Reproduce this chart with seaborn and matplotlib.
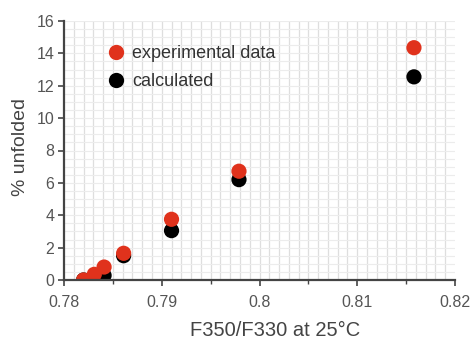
import matplotlib
matplotlib.use("Agg")
import matplotlib.pyplot as plt
import seaborn as sns
import pandas as pd
import numpy as np
from matplotlib.ticker import MultipleLocator
from matplotlib.lines import Line2D

# data
ratio = [0.782, 0.7831, 0.7841, 0.7861, 0.791, 0.7979, 0.8158]
experimental = [0.0, 0.35, 0.8, 1.65, 3.75, 6.72, 14.35]
calculated = [0.0, 0.1, 0.28, 1.5, 3.05, 6.2, 12.55]
series_names = ["experimental data", "calculated"]
x_ticks = [0.78, 0.79, 0.80, 0.81, 0.82]
x_tick_labels = ["0.78", "0.79", "0.8", "0.81", "0.82"]
y_ticks = [0, 2, 4, 6, 8, 10, 12, 14, 16]

df = pd.DataFrame({
    "ratio": ratio * 2,
    "value": experimental + calculated,
    "series": [series_names[0]] * len(ratio) + [series_names[1]] * len(ratio),
})

sns.set_style("white")
plt.rcParams['font.family'] = ['Liberation Sans', 'DejaVu Sans']

fig = plt.figure(figsize=(4.72, 3.40), dpi=100)
L, R, B, T = 64, 455, 280, 21
ax = fig.add_axes([L/472, 1 - B/340, (R - L)/472, (B - T)/340])

colors = {"experimental data": "#e0321c", "calculated": "#000000"}
order_df = pd.concat([df[df.series == "calculated"], df[df.series == "experimental data"]])
sns.scatterplot(data=order_df, x="ratio", y="value", hue="series",
                hue_order=series_names, palette=colors,
                s=120, edgecolor="none", ax=ax, legend=False, zorder=3)

ax.set_xlim(0.78, 0.82)
ax.set_ylim(0, 16)
ax.set_xticks(x_ticks)
ax.set_xticklabels(x_tick_labels)
ax.xaxis.set_minor_locator(MultipleLocator(0.005))
ax.set_yticks(y_ticks)

# grid lines
for gx in np.arange(0.781, 0.8195, 0.001):
    ax.axvline(gx, color="#dedede", lw=0.9, zorder=1)
for gy in np.arange(0.5, 16.01, 0.5):
    ax.axhline(gy, color="#ececec", lw=0.8, zorder=1)

for side in ["top", "right"]:
    ax.spines[side].set_visible(False)
for side in ["left", "bottom"]:
    ax.spines[side].set_color("#444444")
    ax.spines[side].set_linewidth(1.6)
    ax.spines[side].set_zorder(4)

ax.tick_params(axis="both", which="major", direction="out", length=4, width=1.2,
               color="#444444", labelsize=11.5, labelcolor="#555555",
               left=True, bottom=True)
ax.tick_params(axis="x", which="major", pad=7)
ax.tick_params(axis="y", which="major", pad=3)
ax.tick_params(axis="x", which="minor", direction="out", length=3, width=1.0,
               color="#444444", bottom=True)

W, H = R - L, B - T
ax.set_xlabel("F350/F330 at 25°C", fontsize=14.5, color="#444444")
ax.xaxis.set_label_coords((275 - L) / W, -(321 - B) / H)
ax.set_ylabel("% unfolded", fontsize=14, color="#444444")
ax.yaxis.set_label_coords((29 - L) / W, (B - 147.5) / H)

# legend
handles = [Line2D([], [], marker="o", ls="none", markersize=11,
                  markerfacecolor=colors[n], markeredgecolor="none") for n in series_names]
leg = ax.legend(handles, series_names, loc="upper left", bbox_to_anchor=(0.088, 0.935),
                frameon=False, fontsize=13, handletextpad=0.25, labelspacing=0.6,
                handlelength=1.2, borderaxespad=0)
for t in leg.get_texts():
    t.set_color("#333333")

fig.savefig("out.png", dpi=100)
